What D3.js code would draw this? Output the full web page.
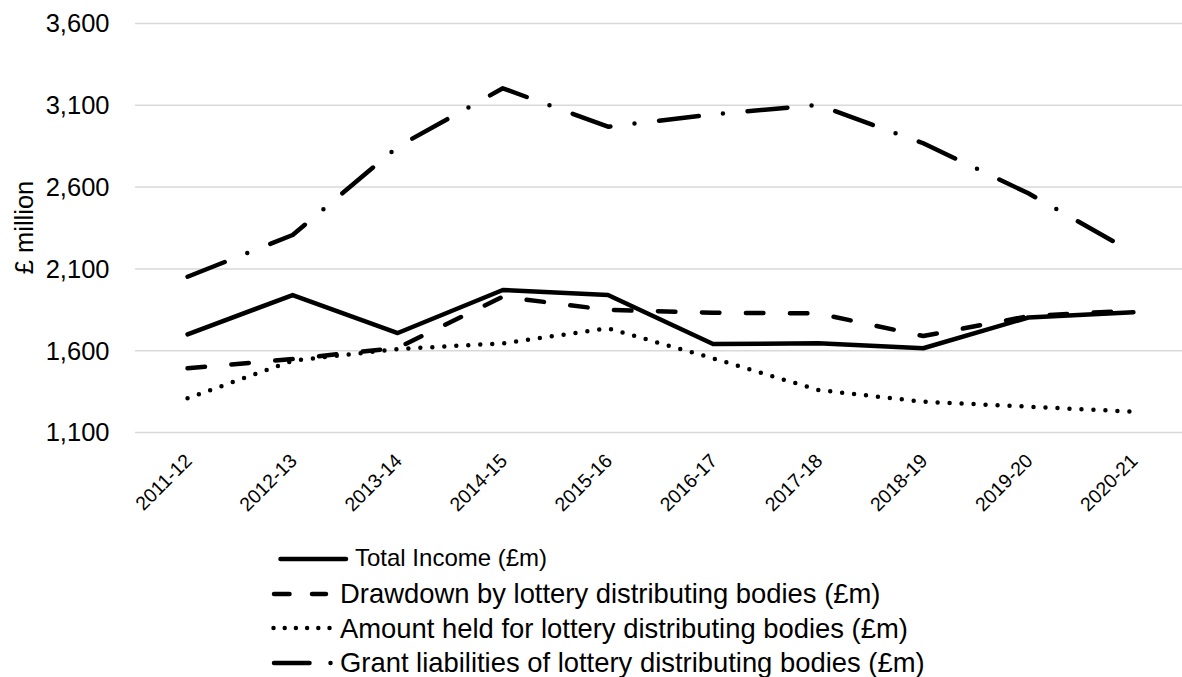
<!DOCTYPE html>
<html>
<head>
<meta charset="utf-8">
<script src="https://cdn.jsdelivr.net/npm/d3@7"></script>
<style>
  body { margin: 0; background: #fff; }
  svg { display: block; font-family: "Liberation Sans", Arial, sans-serif; }
</style>
</head>
<body>
<svg id="chart" width="1182" height="677"></svg>
<script>
// values
var years = ['2011-12', '2012-13', '2013-14', '2014-15', '2015-16', '2016-17', '2017-18', '2018-19', '2019-20', '2020-21']
var totalIncome = [1697, 1937, 1705, 1968, 1937, 1638, 1642, 1612, 1800, 1832]
var drawdown = [1489, 1546, 1615, 1927, 1846, 1829, 1825, 1687, 1808, 1843]
var amountHeld = [1306, 1536, 1607, 1642, 1734, 1550, 1357, 1285, 1255, 1224]
var grantLiabilities = [2049, 2304, 2844, 3201, 2966, 3042, 3099, 2865, 2559, 2196]
var seriesNames = [
  'Total Income (£m)',
  'Drawdown by lottery distributing bodies (£m)',
  'Amount held for lottery distributing bodies (£m)',
  'Grant liabilities of lottery distributing bodies (£m)'
]
var yTicks = [1100, 1600, 2100, 2600, 3100, 3600]
var yLabel = '£ million'

var series = [totalIncome, drawdown, amountHeld, grantLiabilities].map(function (vals, i) {
  return { name: seriesNames[i], values: vals }
})

// line styles (plot / legend)
var dashes = ['none', '17.5,26.5', '0,12', '40,24.25,0,24.75']
var legendDashes = ['none', '15.5,22.5', '0,11.2', '35.5,21,0,40']

var svg = d3.select('#chart'),
  margin = {top: 23, left: 135, bottom: 432},
  width = +svg.attr('width')

var x = d3.scalePoint().domain(years).range([margin.left, 1186]).padding(0.5)
var y = d3.scaleLinear().domain([1100, 3600]).range([margin.bottom, margin.top])

// y axis + gridlines
var yAxis = svg.append('g')
  .attr('transform', 'translate(' + margin.left + ',0)')
  .call(d3.axisLeft(y)
    .tickValues(yTicks)
    .tickSize(-(width - margin.left))
    .tickPadding(25.5)
    .tickFormat(d3.format(',')))
yAxis.select('.domain').remove()
yAxis.selectAll('.tick line')
  .attr('stroke', '#d9d9d9')
  .attr('stroke-width', 1.5)
yAxis.selectAll('.tick text')
  .attr('font-size', '25.5px')
  .attr('font-family', '"Liberation Sans", Arial, sans-serif')
  .attr('fill', '#000')
  .attr('dy', '0.35em')

// x axis labels
var xAxis = svg.append('g')
  .attr('transform', 'translate(0,' + margin.bottom + ')')
  .call(d3.axisBottom(x).tickSize(0))
xAxis.select('.domain').remove()
xAxis.selectAll('.tick text')
  .attr('font-size', '19.5px')
  .attr('font-family', '"Liberation Sans", Arial, sans-serif')
  .attr('fill', '#000')
  .attr('x', 0)
  .attr('y', 0)
  .attr('dy', 0)
  .attr('text-anchor', 'end')
  .attr('transform', 'translate(5,30) rotate(-45)')

// y title
svg.append('text')
  .attr('transform', 'translate(33,' + (margin.top + margin.bottom) / 2 + ') rotate(-90)')
  .attr('text-anchor', 'middle')
  .attr('font-size', '25.5px')
  .attr('fill', '#000')
  .text(yLabel)

// lines
var line = d3.line()
  .x(function (d, i) { return x(years[i]) })
  .y(function (d) { return y(d) })

svg.append('g')
  .selectAll('path')
  .data(series)
  .enter().append('path')
  .attr('d', function (d) { return line(d.values) })
  .attr('fill', 'none')
  .attr('stroke', '#000')
  .attr('stroke-width', 4.5)
  .attr('stroke-linecap', 'round')
  .attr('stroke-linejoin', 'round')
  .attr('stroke-dasharray', function (d, i) { return dashes[i] })

// legend
var legendRows = [
  {x1: 280.5, x2: 346, ly: 559, tx: 355, ty: 566, size: 24},
  {x1: 274, x2: 326, ly: 594, tx: 340, ty: 603, size: 27.4},
  {x1: 273.5, x2: 329.5, ly: 628, tx: 340, ty: 638, size: 27.4},
  {x1: 274, x2: 331, ly: 663, tx: 340, ty: 672, size: 27.4}
]

var legend = svg.append('g')
  .selectAll('g')
  .data(series)
  .enter().append('g')

legend.append('line')
  .attr('x1', function (d, i) { return legendRows[i].x1 })
  .attr('x2', function (d, i) { return legendRows[i].x2 })
  .attr('y1', function (d, i) { return legendRows[i].ly })
  .attr('y2', function (d, i) { return legendRows[i].ly })
  .attr('stroke', '#000')
  .attr('stroke-width', 4.5)
  .attr('stroke-linecap', 'round')
  .attr('stroke-dasharray', function (d, i) { return legendDashes[i] })

legend.append('text')
  .attr('x', function (d, i) { return legendRows[i].tx })
  .attr('y', function (d, i) { return legendRows[i].ty })
  .attr('font-size', function (d, i) { return legendRows[i].size + 'px' })
  .attr('fill', '#000')
  .text(function (d) { return d.name })
</script>
</body>
</html>
